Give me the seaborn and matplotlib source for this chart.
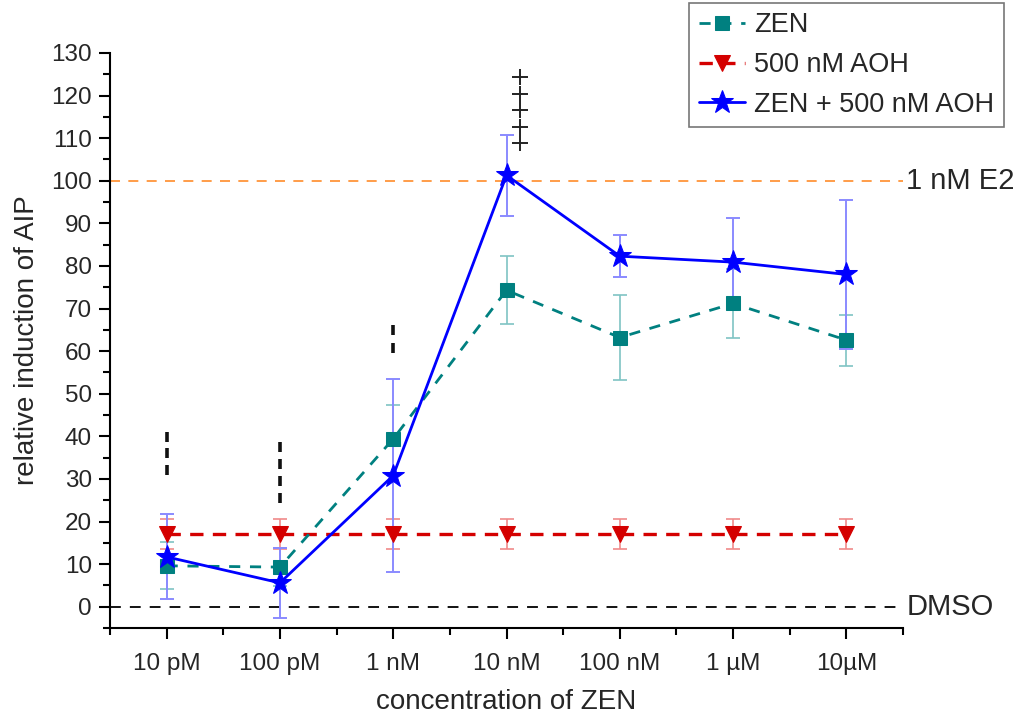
import numpy as np
import pandas as pd
import matplotlib
matplotlib.use("Agg")
import matplotlib.pyplot as plt
import seaborn as sns
from matplotlib.ticker import MultipleLocator

# ---------------- data ----------------
conc_labels = ["10 pM", "100 pM", "1 nM", "10 nM", "100 nM", "1 µM", "10µM"]

zen_mean = [9.6, 9.3, 39.4, 74.3, 63.2, 71.2, 62.6]
zen_err = [5.5, 4.5, 8.0, 8.0, 10.0, 8.0, 6.0]

aoh_mean = [17.0, 17.0, 17.0, 17.0, 17.0, 17.0, 17.0]
aoh_err = [3.5, 3.5, 3.5, 3.5, 3.5, 3.5, 3.5]

mix_mean = [11.7, 5.6, 30.8, 101.3, 82.3, 80.9, 78.0]
mix_err = [10.0, 8.2, 22.7, 9.5, 5.0, 10.3, 17.5]

# significance marks (dash stacks and plus stacks)
dash_pos = [0, 0, 0, 1, 1, 1, 1, 2, 2]
dash_val = [39.9, 36.0, 32.1, 37.5, 33.6, 29.6, 25.6, 65.0, 60.7]
plus_pos = [3.12, 3.12, 3.12, 3.12, 3.12]
plus_val = [124.3, 120.4, 116.5, 112.7, 108.8]

ref_e2 = 100
ref_dmso = 0

# ---------------- style ----------------
sns.set_style("white")
plt.rcParams["font.family"] = ["Liberation Sans", "DejaVu Sans"]

fig = plt.figure(figsize=(10.22, 7.17), dpi=100)
ax = fig.add_axes([110 / 1022, 1 - 628 / 717, (903 - 110) / 1022, (628 - 53) / 717])

x = np.arange(len(conc_labels))

teal = "#008080"
teal_l = "#7fc4c4"
red = "#d40000"
red_l = "#f08a8a"
blue = "#0000ff"
blue_l = "#8a8aff"

# reference lines
ax.axhline(ref_e2, color="#ff8c2a", lw=1.2, dashes=(6, 5), zorder=1)
ax.axhline(ref_dmso, color="black", lw=1.3, dashes=(6, 5), zorder=1)

# error bars
ax.errorbar(x, aoh_mean, yerr=aoh_err, fmt="none", ecolor=red_l, elinewidth=1.2,
            capsize=5, capthick=1.2, zorder=2)
ax.errorbar(x, zen_mean, yerr=zen_err, fmt="none", ecolor=teal_l, elinewidth=1.2,
            capsize=5, capthick=1.2, zorder=3)
ax.errorbar(x, mix_mean, yerr=mix_err, fmt="none", ecolor=blue_l, elinewidth=1.4,
            capsize=5, capthick=1.4, zorder=4)

# lines
sns.lineplot(x=x, y=aoh_mean, ax=ax, color=red, lw=2.4, marker="v", markersize=12,
             markeredgecolor=red, dashes=(4, 2.8), label="500 nM AOH", zorder=5)
sns.lineplot(x=x, y=zen_mean, ax=ax, color=teal, lw=2.0, marker="s", markersize=10.5,
             markeredgecolor=teal, dashes=(4, 3.5), label="ZEN", zorder=6)
sns.lineplot(x=x, y=mix_mean, ax=ax, color=blue, lw=2.0, marker="*", markersize=17,
             markeredgecolor=blue, label="ZEN + 500 nM AOH", zorder=7)

# significance markers
ax.plot(dash_pos, dash_val, ls="none", marker="|", ms=7, mew=2.6, color="#111111", zorder=8)
ax.plot(plus_pos, plus_val, ls="none", marker="+", ms=11, mew=1.4, color="#222222",
        zorder=8, clip_on=False)

# labels for reference lines
ax.text(6.53, ref_e2, "1 nM E2", fontsize=21, va="center", ha="left", clip_on=False)
ax.text(6.53, ref_dmso, "DMSO", fontsize=21, va="center", ha="left", clip_on=False)

# axes
ax.set_xlim(-0.5, 6.5)
ax.set_ylim(-5, 130)
ax.set_xticks(x)
ax.set_xticklabels(conc_labels)
ax.set_xticks(np.arange(-0.5, 6.6, 1.0), minor=True)
ax.set_yticks(np.arange(0, 131, 10))
ax.yaxis.set_minor_locator(MultipleLocator(5))
ax.tick_params(axis="both", which="major", direction="out", length=8, width=1.5,
               labelsize=17.5, color="black", pad=5)
ax.tick_params(axis="both", which="minor", direction="out", length=5, width=1.5,
               color="black")
ax.tick_params(axis="x", which="major", pad=10)
ax.tick_params(left=True, bottom=True, which="both")
sns.despine(ax=ax)
for s in ["left", "bottom"]:
    ax.spines[s].set_color("black")
    ax.spines[s].set_linewidth(1.5)

ax.set_xlabel("concentration of ZEN", fontsize=20, labelpad=10)
ax.set_ylabel("relative induction of AIP", fontsize=20, labelpad=8)

# legend in desired order
handles, labels = ax.get_legend_handles_labels()
order = [labels.index("ZEN"), labels.index("500 nM AOH"), labels.index("ZEN + 500 nM AOH")]
leg = fig.legend([handles[i] for i in order], [labels[i] for i in order],
                 loc="upper right", bbox_to_anchor=(1004 / 1022, 1 - 3 / 717),
                 fontsize=19.5, frameon=True, fancybox=False, edgecolor="#777777",
                 framealpha=1, handlelength=1.7, handletextpad=0.35,
                 borderpad=0.35, labelspacing=0.5, borderaxespad=0)
leg.get_frame().set_linewidth(1.2)
ax.get_legend().remove()

fig.savefig("out.png", dpi=100)
